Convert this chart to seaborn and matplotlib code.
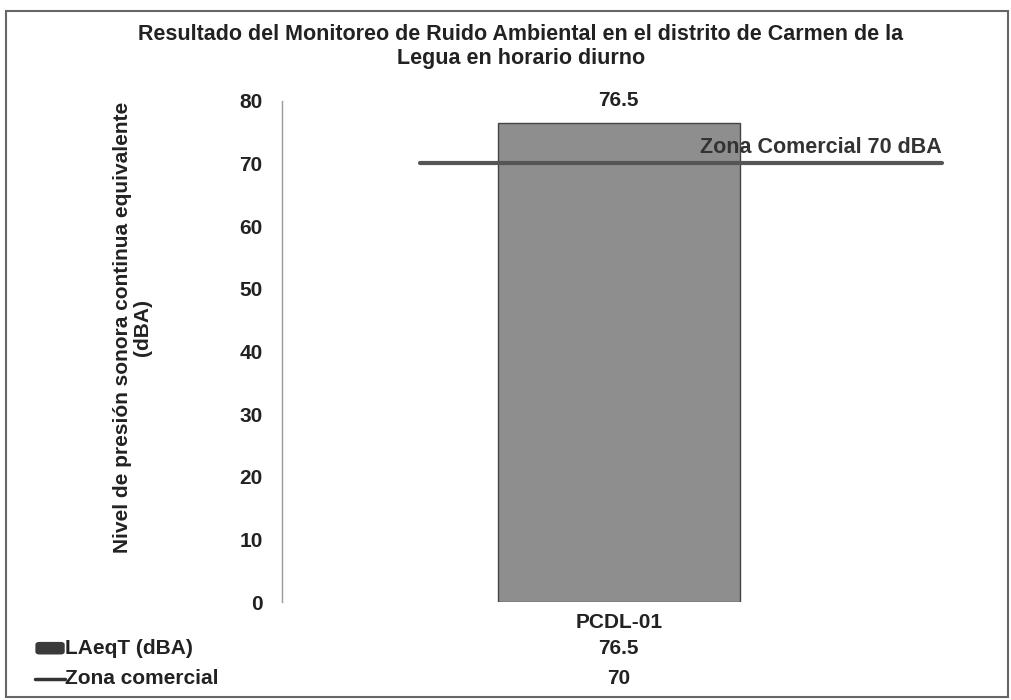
import matplotlib
matplotlib.use('Agg')
import matplotlib.pyplot as plt
import matplotlib.patches as mpatches
import seaborn as sns
import pandas as pd

# data
stations = ['PCDL-01']
laeq_values = [76.5]
limit_value = 70
limit_label = 'Zona Comercial 70 dBA'
series_names = ['LAeqT (dBA)', 'Zona comercial']
y_ticks = [0, 10, 20, 30, 40, 50, 60, 70, 80]

title = ('Resultado del Monitoreo de Ruido Ambiental en el distrito de Carmen de la\n'
         'Legua en horario diurno')
y_label = 'Nivel de presión sonora continua equivalente\n(dBA)'

sns.set_style('white')
plt.rcParams['font.family'] = ['Liberation Sans', 'DejaVu Sans']
plt.rcParams['font.weight'] = 'bold'

df = pd.DataFrame({'station': stations, 'laeq': laeq_values})

text_col = '#222222'
bar_col = '#8e8e8e'
line_col = '#555555'

fig = plt.figure(figsize=(10.11, 7.0), dpi=100)
ax = fig.add_axes([0.279, 0.14, 0.666, 0.716])

sns.barplot(data=df, x='station', y='laeq', color=bar_col, width=0.36,
            edgecolor='#444444', linewidth=1.0, saturation=1, ax=ax)

# limit line (drawn partly across the axis like in the original)
ax.axhline(limit_value, xmin=0.205, xmax=0.98, color=line_col, lw=3, zorder=3)
ax.text(0.48, limit_value + 0.8, limit_label, ha='right', va='bottom',
        fontsize=15.5, color='#333333', fontweight='bold', zorder=4)

for i, v in enumerate(laeq_values):
    ax.text(i, v + 2.0, f'{v}', ha='center', va='bottom', fontsize=15,
            color=text_col, fontweight='bold')

ax.set_ylim(0, 80)
ax.set_xlim(-0.5, 0.5)
ax.set_yticks(y_ticks)
ax.set_yticklabels([str(t) for t in y_ticks], fontsize=15, color=text_col,
                   fontweight='bold')
ax.tick_params(axis='y', length=0, pad=14)
ax.tick_params(axis='x', length=0, pad=8, labelsize=15, labelcolor=text_col)
for lbl in ax.get_xticklabels():
    lbl.set_fontweight('bold')
ax.set_xlabel('')
ax.set_ylabel(y_label, fontsize=15, color=text_col, fontweight='bold',
              linespacing=1.1)
ax.yaxis.set_label_coords(-0.193, 0.547)

for side in ['top', 'right', 'bottom']:
    ax.spines[side].set_visible(False)
ax.spines['left'].set_color('#999999')
ax.spines['left'].set_linewidth(1)

fig.suptitle(title, x=0.515, y=0.965, fontsize=15.5, color=text_col, fontweight='bold',
             linespacing=1.15)

# data table under the chart
row_y = [0.074, 0.030]
table_vals = [laeq_values[0], limit_value]
for name, yy, val in zip(series_names, row_y, table_vals):
    fig.text(0.064, yy, name, ha='left', va='center', fontsize=15,
             color=text_col, fontweight='bold')
    fig.text(0.612, yy, f'{val}', ha='center', va='center', fontsize=15,
             color=text_col, fontweight='bold')

fig.patches.append(mpatches.FancyBboxPatch((0.035, row_y[0] - 0.009), 0.029, 0.018,
                                           boxstyle='round,pad=0,rounding_size=0.004',
                                           transform=fig.transFigure,
                                           facecolor='#3a3a3a', edgecolor='none'))
fig.lines.append(plt.Line2D([0.035, 0.064], [row_y[1], row_y[1]], transform=fig.transFigure,
                            color='#333333', lw=2.5))

# outer frame
fig.patches.append(mpatches.Rectangle((0.006, 0.004), 0.991, 0.981, transform=fig.transFigure,
                                      fill=False, edgecolor='#666666', lw=1.5))

fig.savefig('out.png', dpi=100)
